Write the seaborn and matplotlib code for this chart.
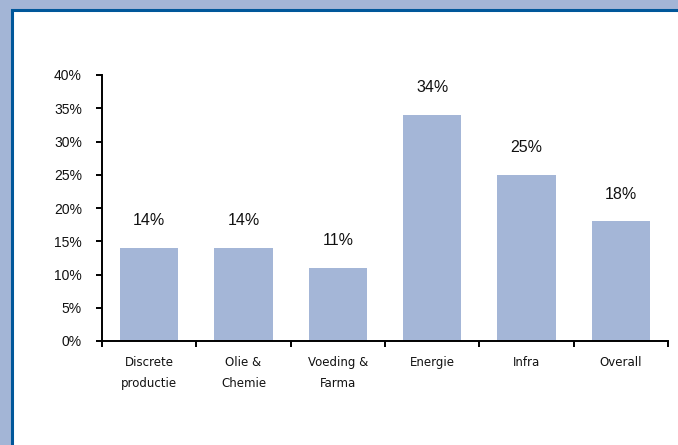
import matplotlib
matplotlib.use("Agg")
import matplotlib.pyplot as plt
from matplotlib.patches import Rectangle
import seaborn as sns
import pandas as pd

# Data
categories = ["Discrete\nproductie", "Olie &\nChemie", "Voeding &\nFarma", "Energie", "Infra", "Overall"]
values = [14, 14, 11, 34, 25, 18]
y_ticks = [0, 5, 10, 15, 20, 25, 30, 35, 40]
y_tick_labels = [f"{v}%" for v in y_ticks]

frame_fill = "#A3B5D6"
frame_line = "#00579A"
bar_color = "#A4B6D7"

sns.set_theme(style="white")
plt.rcParams["font.family"] = ["Liberation Sans", "DejaVu Sans"]

fig = plt.figure(figsize=(6.78, 4.45), dpi=100, facecolor=frame_fill)

# White panel with dark blue rule along top and left
panel = Rectangle((11.5 / 678, -0.1), 1.2, (1 - 9.5 / 445) + 0.1,
                  transform=fig.transFigure, facecolor="white",
                  edgecolor=frame_line, linewidth=2.2, zorder=-10)
fig.patches.append(panel)

ax = fig.add_axes([102 / 678, 1 - 341 / 445, (668 - 102) / 678, (341 - 75) / 445])
ax.set_facecolor("none")
ax.set_zorder(1)

df = pd.DataFrame({"categorie": categories, "waarde": values})
sns.barplot(data=df, x="categorie", y="waarde", color=bar_color, saturation=1,
            width=0.62, ax=ax, errorbar=None, linewidth=0)

ax.set_xlim(-0.5, len(categories) - 0.5)
ax.set_ylim(0, 40)
ax.set_xlabel("")
ax.set_ylabel("")

# Value labels above bars
for i, v in enumerate(values):
    ax.annotate(f"{v}%", (i, v), xytext=(0, 19.5), textcoords="offset points",
                ha="center", va="center", fontsize=11.5, color="#111111")

# Y axis
ax.set_yticks(y_ticks)
ax.set_yticklabels(y_tick_labels, fontsize=10, color="#111111")
ax.tick_params(axis="y", direction="out", length=4.5, width=1.4, pad=10,
               color="black", left=True)

# X axis: labels at category centres, tick marks at category boundaries
ax.set_xticks(range(len(categories)))
ax.set_xticklabels(categories, fontsize=8.5, family="DejaVu Sans",
                   color="#111111", linespacing=1.8)
ax.tick_params(axis="x", which="major", length=0, pad=11)
ax.set_xticks([i - 0.5 for i in range(len(categories) + 1)], minor=True)
ax.tick_params(axis="x", which="minor", direction="out", length=4.5, width=1.4,
               color="black", bottom=True)

for side in ["top", "right"]:
    ax.spines[side].set_visible(False)
for side in ["left", "bottom"]:
    ax.spines[side].set_color("black")
    ax.spines[side].set_linewidth(1.4)

fig.savefig("out.png", dpi=100, facecolor=frame_fill)
